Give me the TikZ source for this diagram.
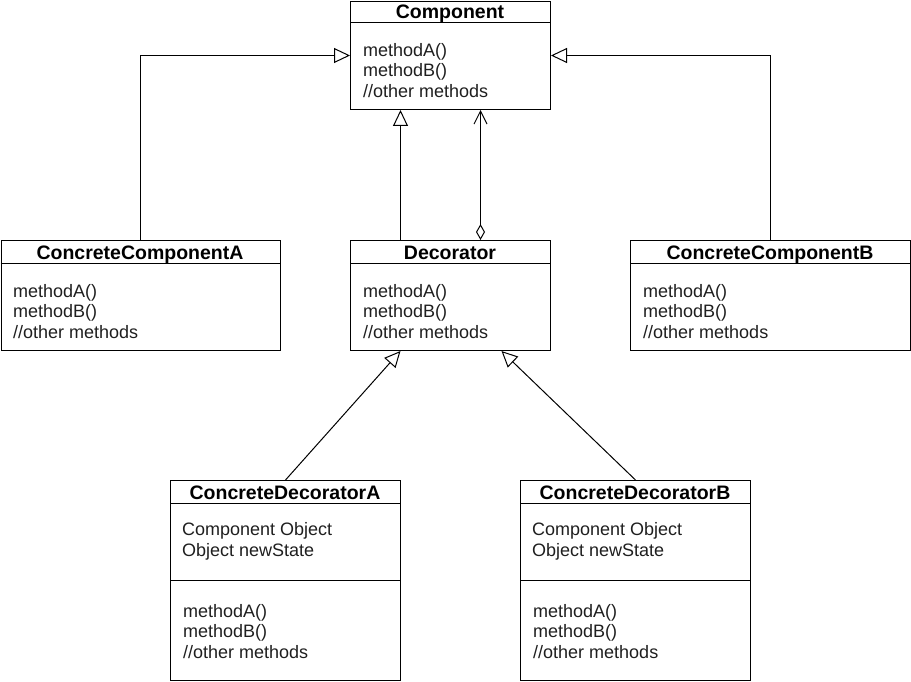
\documentclass[tikz,border=0pt]{standalone}
\usepackage{fontspec}
\setmainfont{Liberation Sans}
\usetikzlibrary{arrows.meta}
\begin{document}
\begin{tikzpicture}[x=1pt,y=-1pt,
  box/.style={draw, line width=1pt, inner sep=0pt, anchor=north west},
  sep/.style={line width=1pt},
  title/.style={font=\bfseries\fontsize{19.5}{21}\selectfont, anchor=base, inner sep=0pt},
  txt/.style={font=\fontsize{18}{20}\selectfont, anchor=base west, inner sep=0pt, text=black!88},
  conn/.style={line width=1pt},
  inh/.style={conn, -{Triangle[open,length=16pt,width=15pt,line width=1pt]}},
  agg/.style={conn, {Diamond[open,length=16pt,width=9pt,line width=1pt]}-{Straight Barb[length=13pt,width=13pt,line width=1pt]}}]
\useasboundingbox (0,0) rectangle (911,682);

% Component
\node[box, minimum width=200pt, minimum height=108pt] (comp) at (350,1) {};
\draw[sep] (350,23) -- (550,23);
\node[title] (compT) at (450,19) {Component};
\node[txt] (compA) at (363,57) {methodA()};
\node[txt] (compB) at (363,77) {methodB()};
\node[txt] (compO) at (363,98) {//other methods};

% ConcreteComponentA
\node[box, minimum width=279.5pt, minimum height=110pt] (cca) at (0.5,240) {};
\draw[sep] (0.5,263) -- (280,263);
\node[title] (ccaT) at (140,259) {ConcreteComponentA};
\node[txt] (ccaA) at (13,297) {methodA()};
\node[txt] (ccaB) at (13,317) {methodB()};
\node[txt] (ccaO) at (13,338) {//other methods};

% Decorator
\node[box, minimum width=200pt, minimum height=110pt] (dec) at (350,240) {};
\draw[sep] (350,263) -- (550,263);
\node[title] (decT) at (450,259) {Decorator};
\node[txt] (decA) at (363,297) {methodA()};
\node[txt] (decB) at (363,317) {methodB()};
\node[txt] (decO) at (363,338) {//other methods};

% ConcreteComponentB
\node[box, minimum width=280pt, minimum height=110pt] (ccb) at (630,240) {};
\draw[sep] (630,263) -- (910,263);
\node[title] (ccbT) at (770,259) {ConcreteComponentB};
\node[txt] (ccbA) at (643,297) {methodA()};
\node[txt] (ccbB) at (643,317) {methodB()};
\node[txt] (ccbO) at (643,338) {//other methods};

% ConcreteDecoratorA
\node[box, minimum width=230pt, minimum height=200pt] (cda) at (170,480) {};
\draw[sep] (170,503) -- (400,503);
\draw[sep] (170,580) -- (400,580);
\node[title] (cdaT) at (285,499) {ConcreteDecoratorA};
\node[txt] (cdaF1) at (182,535) {Component Object};
\node[txt] (cdaF2) at (182,556) {Object newState};
\node[txt] (cdaA) at (183,617) {methodA()};
\node[txt] (cdaB) at (183,637) {methodB()};
\node[txt] (cdaO) at (183,658) {//other methods};

% ConcreteDecoratorB
\node[box, minimum width=230pt, minimum height=200pt] (cdb) at (520,480) {};
\draw[sep] (520,503) -- (750,503);
\draw[sep] (520,580) -- (750,580);
\node[title] (cdbT) at (635,499) {ConcreteDecoratorB};
\node[txt] (cdbF1) at (532,535) {Component Object};
\node[txt] (cdbF2) at (532,556) {Object newState};
\node[txt] (cdbA) at (533,617) {methodA()};
\node[txt] (cdbB) at (533,637) {methodB()};
\node[txt] (cdbO) at (533,658) {//other methods};

% connectors
\draw[inh] (cca.north) |- (comp.west);
\draw[inh] (ccb.north) |- (comp.east);
\draw[inh] ([xshift=-50pt]dec.north) -- ([xshift=-50pt]comp.south);
\draw[agg] ([xshift=30pt]dec.north) -- ([xshift=30pt]comp.south);
\draw[inh] (cda.north) -- ([xshift=-50pt]dec.south);
\draw[inh] (cdb.north) -- ([xshift=51pt]dec.south);
\end{tikzpicture}
\end{document}
